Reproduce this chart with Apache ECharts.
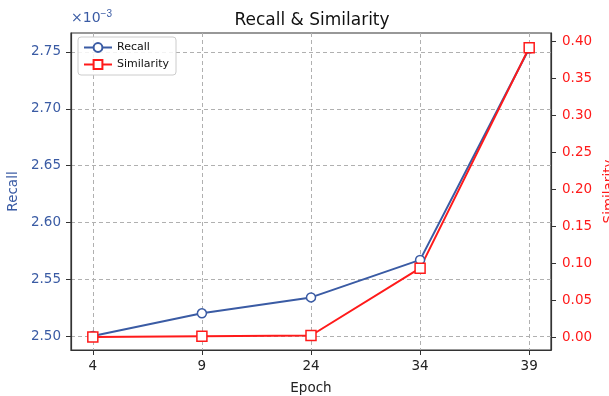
<!DOCTYPE html>
<html>
<head>
<meta charset="utf-8">
<script src="https://cdn.jsdelivr.net/npm/echarts@6/dist/echarts.min.js"></script>
<style>
  html, body { margin: 0; padding: 0; background: #fff; }
  #main { width: 609px; height: 396px; }
</style>
</head>
<body>
<div id="main"></div>
<script>
// data
var epochs = ['4', '9', '24', '34', '39'];
var recall = [2.500, 2.520, 2.534, 2.567, 2.753];      // x1e-3
var similarity = [0.001, 0.002, 0.003, 0.094, 0.392];
var recallTicks = [2.50, 2.55, 2.60, 2.65, 2.70, 2.75];
var simTicks = [0.00, 0.05, 0.10, 0.15, 0.20, 0.25, 0.30, 0.35, 0.40];

var blue = '#3a5ba4';
var red = '#ff1a1a';
var font = 'DejaVu Sans';

// category index as x so the axis can be padded like matplotlib
var idx = epochs.map(function (e, i) { return i; });
var recallData = recall.map(function (v, i) { return [i, v]; });
var simData = similarity.map(function (v, i) { return [i, v]; });

var chart = echarts.init(document.getElementById('main'));
chart.setOption({
    backgroundColor: '#fff',
    animation: false,
    textStyle: { fontFamily: font },
    title: {
        text: 'Recall & Similarity',
        left: 307, top: 7, textAlign: 'center',
        textStyle: { fontSize: 17, fontWeight: 'normal', color: '#111', fontFamily: font }
    },
    graphic: [{
        type: 'text', left: 71, top: 9,
        style: {
            text: '×10{s|−3}',
            fill: blue, font: '14px "DejaVu Sans"',
            rich: { s: { fontSize: 10, verticalAlign: 'top', padding: [0, 0, 8, 0], fill: blue } }
        }
    }],
    legend: {
        orient: 'vertical', left: 78, top: 37,
        backgroundColor: 'rgba(255,255,255,0.85)',
        borderColor: '#ccc', borderWidth: 1, borderRadius: 3,
        padding: [5, 7, 5, 5], itemGap: 6, itemWidth: 28, itemHeight: 11,
        textStyle: { fontSize: 11, color: '#111', fontFamily: font },
        data: ['Recall', 'Similarity']
    },
    grid: {
        left: 71, right: 58, top: 33, bottom: 46,
        outerBoundsMode: 'none', containLabel: false,
        show: true, borderColor: '#333', borderWidth: 1.2
    },
    xAxis: {
        type: 'value', min: -0.2, max: 4.2,
        name: 'Epoch', nameLocation: 'middle', nameGap: 31,
        nameTextStyle: { fontSize: 13.5, color: '#222', fontFamily: font },
        axisLine: { show: true, onZero: false, lineStyle: { color: '#333', width: 1.2 } },
        axisTick: { show: true, length: 5, customValues: idx, lineStyle: { color: '#333' } },
        axisLabel: {
            customValues: idx, fontSize: 13.5, color: '#222', margin: 9,
            formatter: function (v) { return epochs[Math.round(v)]; }
        },
        splitLine: { show: true, lineStyle: { color: '#b0b0b0', type: [4, 3], width: 1 } }
    },
    yAxis: [{
        type: 'value', min: 2.4877, max: 2.7667, position: 'left',
        name: 'Recall', nameLocation: 'middle', nameGap: 49, nameRotate: 90,
        nameTextStyle: { fontSize: 13.5, color: blue, fontFamily: font },
        axisLine: { show: true, onZero: false, lineStyle: { color: '#333', width: 1.2 } },
        axisTick: { show: true, length: 5, customValues: recallTicks, lineStyle: { color: '#333' } },
        axisLabel: {
            customValues: recallTicks, fontSize: 13.5, color: blue, margin: 10,
            formatter: function (v) { return v.toFixed(2); }
        },
        splitLine: { show: true, lineStyle: { color: '#b0b0b0', type: [4, 3], width: 1 } }
    }, {
        type: 'value', min: -0.0166, max: 0.4118, position: 'right',
        name: 'Similarity', nameLocation: 'middle', nameGap: 47, nameRotate: 90,
        nameTextStyle: { fontSize: 13.5, color: red, fontFamily: font },
        axisLine: { show: true, onZero: false, lineStyle: { color: '#333', width: 1.2 } },
        axisTick: { show: true, length: 5, customValues: simTicks, lineStyle: { color: '#333' } },
        axisLabel: {
            customValues: simTicks, fontSize: 13.5, color: red, margin: 11,
            formatter: function (v) { return v.toFixed(2); }
        },
        splitLine: { show: false }
    }],
    series: [{
        name: 'Recall', type: 'line', yAxisIndex: 0, data: recallData,
        symbol: 'circle', symbolSize: 9,
        lineStyle: { color: blue, width: 2 },
        itemStyle: { color: '#fff', borderColor: blue, borderWidth: 1.5 }
    }, {
        name: 'Similarity', type: 'line', yAxisIndex: 1, data: simData,
        symbol: 'rect', symbolSize: 10,
        lineStyle: { color: red, width: 2 },
        itemStyle: { color: '#fff', borderColor: red, borderWidth: 1.5 }
    }]
});
</script>
</body>
</html>
